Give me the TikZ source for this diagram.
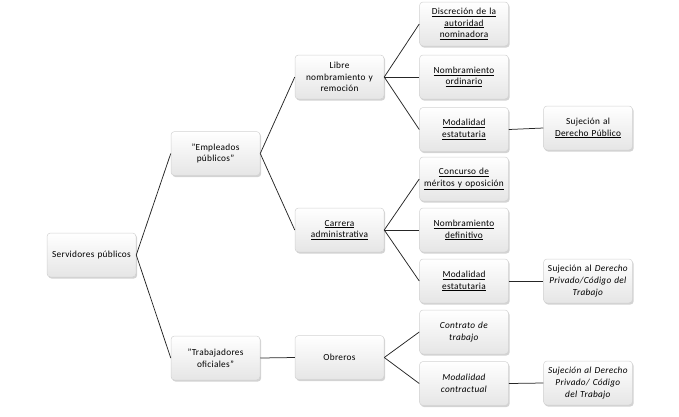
\documentclass[tikz,border=0pt]{standalone}
\usepackage{fontspec}
\setmainfont[LetterSpace=3]{Carlito}
\usetikzlibrary{shadows}
\begin{document}
\begin{tikzpicture}[x=1pt,y=-1pt,
 box/.style={draw=gray!35, line width=0.5pt, rounded corners=3.5pt, top color=white, bottom color=gray!20,
   minimum width=89pt, minimum height=44pt, text width=88pt, align=center, inner sep=0.5pt,
   font=\fontsize{9.3}{11.6}\selectfont,
   drop shadow={shadow xshift=1.2pt, shadow yshift=-1.6pt, opacity=0.35, fill=gray}},
 link/.style={draw=black!85, line width=0.75pt}]
\useasboundingbox (0,0) rectangle (679,416);
\node[box] (sp) at (91.5,255) {Servidores públicos};
\node[box] (ep) at (215.5,153.5) {"Empleados\\públicos"};
\node[box] (to) at (215.5,358) {"Trabajadores\\oficiales"};
\node[box] (ln) at (339.5,77) {Libre\\nombramiento y\\remoción};
\node[box] (ca) at (339.5,230) {\underline{Carrera}\\\underline{administrativa}};
\node[box] (ob) at (339.5,357.5) {Obreros};
\node[box] (di) at (464,24) {\underline{Discreción de la}\\\underline{autoridad}\\\underline{nominadora}};
\node[box] (no) at (464,77) {\underline{Nombramiento}\\\underline{ordinario}};
\node[box] (m1) at (464,129.5) {\underline{Modalidad}\\\underline{estatutaria}};
\node[box] (co) at (464,179) {\underline{Concurso de}\\\underline{méritos y oposición}};
\node[box] (nd) at (464,230) {\underline{Nombramiento}\\\underline{definitivo}};
\node[box] (m2) at (464,281) {\underline{Modalidad}\\\underline{estatutaria}};
\node[box] (ct) at (464,332) {\textit{Contrato de}\\\textit{trabajo}};
\node[box] (mc) at (464,383.5) {\textit{Modalidad}\\\textit{contractual}};
\node[box] (s1) at (588,128) {Sujeción al\\\underline{Derecho Público}};
\node[box] (s2) at (588,281) {Sujeción al \textit{Derecho}\\\textit{Privado/Código del}\\\textit{Trabajo}};
\node[box] (s3) at (588,383) {\textit{Sujeción al Derecho}\\\textit{Privado/ Código}\\\textit{del Trabajo}};
\draw[link] (sp.east) -- (ep.west);
\draw[link] (sp.east) -- (to.west);
\draw[link] (ep.east) -- (ln.west);
\draw[link] (ep.east) -- (ca.west);
\draw[link] (to.east) -- (ob.west);
\draw[link] (ln.east) -- (di.west);
\draw[link] (ln.east) -- (no.west);
\draw[link] (ln.east) -- (m1.west);
\draw[link] (ca.east) -- (co.west);
\draw[link] (ca.east) -- (nd.west);
\draw[link] (ca.east) -- (m2.west);
\draw[link] (ob.east) -- (ct.west);
\draw[link] (ob.east) -- (mc.west);
\draw[link] (m1.east) -- (s1.west);
\draw[link] (m2.east) -- (s2.west);
\draw[link] (mc.east) -- (s3.west);
\end{tikzpicture}
\end{document}
